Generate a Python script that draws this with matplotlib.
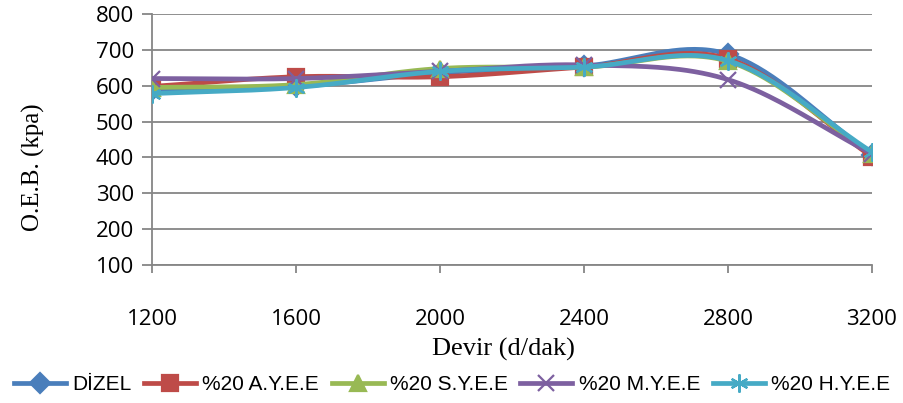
import numpy as np
import matplotlib
matplotlib.use("Agg")
import matplotlib.pyplot as plt

# chart data
devir = ["1200", "1600", "2000", "2400", "2800", "3200"]
dizel = [588, 598, 636, 655, 688, 408]
ayee = [598, 625, 625, 652, 675, 402]
syee = [595, 603, 648, 652, 668, 410]
myee = [620, 620, 640, 658, 617, 410]
hyee = [578, 595, 640, 652, 670, 415]

series = [
    ("DİZEL", dizel, "#4A7EBB", "D", 10),
    ("%20 A.Y.E.E", ayee, "#BE4B48", "s", 11),
    ("%20 S.Y.E.E", syee, "#98B954", "^", 11),
    ("%20 M.Y.E.E", myee, "#7D60A0", "x", 12),
    ("%20 H.Y.E.E", hyee, "#46AAC5", (6, 2, 0), 13),
]


def smooth(xs, ys, n=40):
    # Catmull-Rom style curve, close to the Excel "smoothed line"
    xs = np.asarray(xs, float)
    ys = np.asarray(ys, float)
    px = np.concatenate([[2 * xs[0] - xs[1]], xs, [2 * xs[-1] - xs[-2]]])
    py = np.concatenate([[2 * ys[0] - ys[1]], ys, [2 * ys[-1] - ys[-2]]])
    ox, oy = [], []
    t = np.linspace(0, 1, n)
    for i in range(1, len(px) - 2):
        p0, p1, p2, p3 = [np.array([px[j], py[j]]) for j in (i - 1, i, i + 1, i + 2)]
        c1 = p1 + (p2 - p0) / 6
        c2 = p2 - (p3 - p1) / 6
        b = ((1 - t) ** 3)[:, None] * p1 + (3 * (1 - t) ** 2 * t)[:, None] * c1 \
            + (3 * (1 - t) * t ** 2)[:, None] * c2 + (t ** 3)[:, None] * p2
        ox.extend(b[:, 0])
        oy.extend(b[:, 1])
    return np.array(ox), np.array(oy)


fig = plt.figure(figsize=(9.04, 4.03), dpi=100)
ax = fig.add_axes([152 / 904, 1 - 265 / 403, 720 / 904, 251 / 403])

x = np.arange(len(devir))
handles = []
for k, (name, vals, col, mk, ms) in enumerate(series):
    sx, sy = smooth(x, vals)
    ax.plot(sx, sy, color=col, lw=3.4, solid_capstyle="round", zorder=3 + k)
    ax.plot(x, vals, linestyle="none", marker=mk, markersize=ms, color=col,
            markeredgecolor=col, markeredgewidth=1.6, zorder=3 + k)
    h, = ax.plot([], [], color=col, lw=3.4, marker=mk, markersize=ms,
                 markeredgecolor=col, markeredgewidth=1.6)
    handles.append(h)

ax.set_xlim(0, 5)
ax.set_ylim(100, 800)
ax.set_yticks(range(100, 801, 100))
ax.set_xticks(x)
ax.set_xticklabels(devir)
ax.grid(axis="y", color="#868686", lw=1.3)
ax.set_axisbelow(True)
for s in ["top", "right"]:
    ax.spines[s].set_visible(False)
for s in ["left", "bottom"]:
    ax.spines[s].set_color("#868686")
    ax.spines[s].set_linewidth(1.3)
ax.tick_params(axis="x", colors="#868686", length=6, width=1.3, pad=26, labelcolor="black",
               labelsize=16)
ax.tick_params(axis="y", colors="#868686", length=7, width=1.3, pad=6, labelcolor="black",
               labelsize=16)
for lab in ax.get_xticklabels() + ax.get_yticklabels():
    lab.set_family("Open Sans")

fig.text(33 / 904, 1 - 167 / 403, "O.E.B. (kpa)", rotation=90, ha="center", va="center",
         family="Liberation Serif", fontsize=18)
fig.text(503 / 904, 1 - 349 / 403, "Devir (d/dak)", ha="center", va="center",
         family="Liberation Serif", fontsize=19)

fig.legend(handles, [s[0] for s in series], loc="center", bbox_to_anchor=(0.5, 1 - 385 / 403),
           ncol=5, frameon=False, handlelength=2.5, handletextpad=0.3, columnspacing=0.6,
           borderaxespad=0, borderpad=0,
           prop={"family": ["Liberation Sans Narrow", "Liberation Sans"], "size": 15})

fig.savefig("out.png", dpi=100)
